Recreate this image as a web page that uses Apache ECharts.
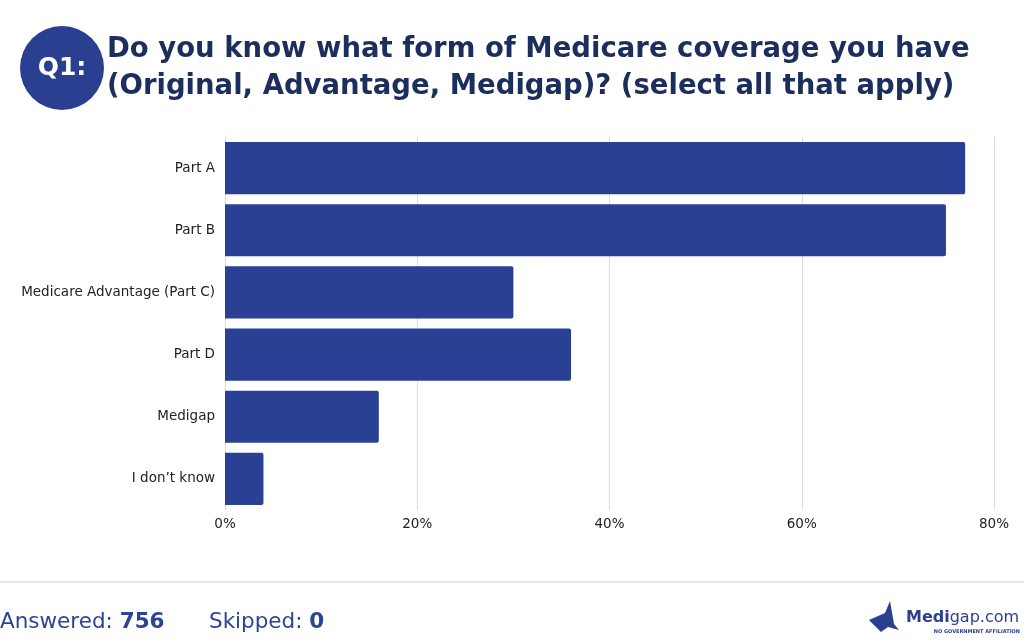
<!DOCTYPE html>
<html>
<head>
<meta charset="utf-8">
<script src="https://cdn.jsdelivr.net/npm/echarts@6/dist/echarts.min.js"></script>
<style>
html,body{margin:0;padding:0;background:#fff;}
#chart{width:1024px;height:642px;}
</style>
</head>
<body>
<div id="chart"></div>
<script>
const categories = ["Part A", "Part B", "Medicare Advantage (Part C)", "Part D", "Medigap", "I don\u2019t know"];
const values = [77, 75, 30, 36, 16, 4];
const xTicks = [0, 20, 40, 60, 80];
const titleLines = ["Do you know what form of Medicare coverage you have", "(Original, Advantage, Medigap)? (select all that apply)"];
const answered = 756;
const skipped = 0;

const chart = echarts.init(document.getElementById('chart'), null, {renderer: 'canvas'});
const navy = '#1c2f5c';
const blue = '#2a4094';
const font = 'DejaVu Sans';

chart.setOption({
  animation: false,
  backgroundColor: '#ffffff',
  grid: {left: 225, right: 30, top: 137, bottom: 132, containLabel: false},
  xAxis: {
    type: 'value', min: xTicks[0], max: xTicks[xTicks.length - 1], interval: 20,
    axisLine: {show: false}, axisTick: {show: false},
    splitLine: {lineStyle: {color: '#dcdcdc', width: 1}},
    axisLabel: {formatter: v => v + '%', color: '#222', fontFamily: font, fontSize: 13.5, margin: 7}
  },
  yAxis: {
    type: 'category', data: categories, inverse: true,
    axisLine: {show: false}, axisTick: {show: false},
    axisLabel: {color: '#222', fontFamily: font, fontSize: 13.5, margin: 10}
  },
  series: [{
    type: 'bar', data: values, barCategoryGap: '16%',
    itemStyle: {color: blue, borderRadius: [0, 2, 2, 0]}
  }],
  graphic: [
    {type: 'circle', shape: {cx: 62, cy: 68, r: 42}, style: {fill: '#2b3f91'}},
    {type: 'text', x: 62, y: 68, style: {text: 'Q1:', fill: '#fff', font: 'bold 25px ' + font, align: 'center', verticalAlign: 'middle'}},
    {type: 'text', x: 107, y: 50, style: {text: titleLines[0], fill: navy, font: 'bold 27.5px ' + font, verticalAlign: 'middle'}},
    {type: 'text', x: 107, y: 87, style: {text: titleLines[1], fill: navy, font: 'bold 27.5px ' + font, verticalAlign: 'middle'}},
    {type: 'line', shape: {x1: 0, y1: 582, x2: 1024, y2: 582}, style: {stroke: '#d0d0d0', lineWidth: 1}},
    {type: 'text', x: 0, y: 622, style: {
      text: '{l|Answered: }{b|' + answered + '}',
      verticalAlign: 'middle',
      rich: {
        l: {fill: '#2b4593', font: '21.5px ' + font},
        b: {fill: '#2b4593', font: 'bold 21.5px ' + font}
      }}},
    {type: 'text', x: 209, y: 622, style: {
      text: '{l|Skipped: }{b|' + skipped + '}',
      verticalAlign: 'middle',
      rich: {
        l: {fill: '#2b4593', font: '21.5px ' + font},
        b: {fill: '#2b4593', font: 'bold 21.5px ' + font}
      }}},
    {type: 'polygon', shape: {points: [[869, 620], [885, 613], [890, 601], [894, 624], [899, 630], [888, 627], [881, 632]]}, style: {fill: '#2b3f91'}},
    {type: 'text', x: 906, y: 618, style: {
      text: '{b|Medi}{l|gap.com}', verticalAlign: 'middle',
      rich: {
        b: {fill: '#2b3f91', font: 'bold 16px ' + font},
        l: {fill: '#2b3f91', font: '16px ' + font}
      }}},
    {type: 'text', x: 1020, y: 632, style: {text: 'NO GOVERNMENT AFFILIATION', fill: '#2b3f91', font: 'bold 5px ' + font, align: 'right', verticalAlign: 'middle'}}
  ]
});
</script>
</body>
</html>
